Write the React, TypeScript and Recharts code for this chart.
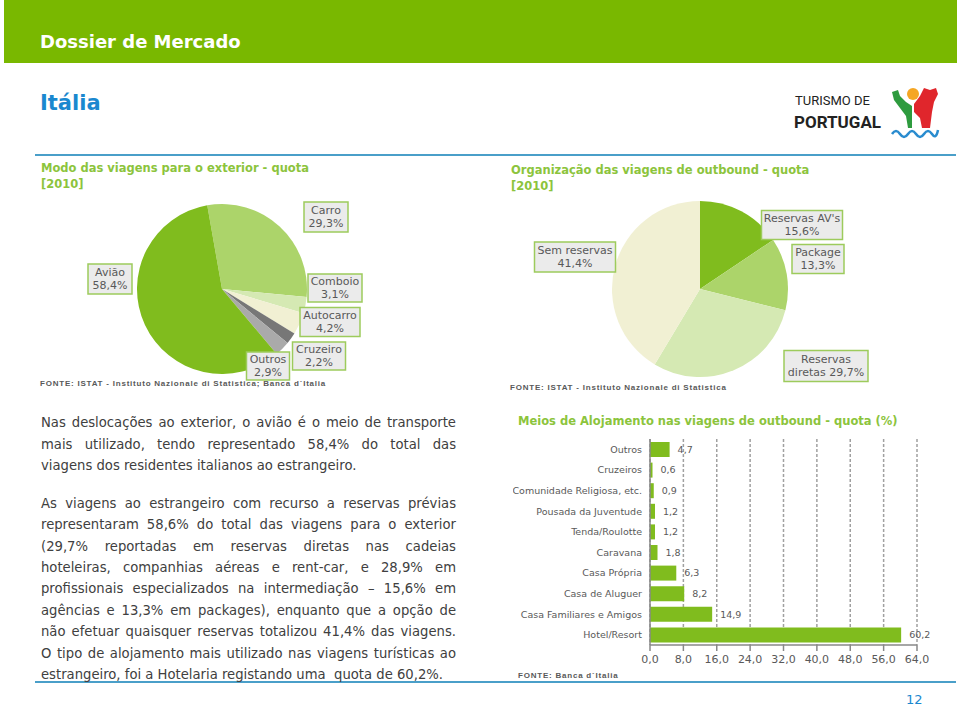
import React from 'react';
import { PieChart, Pie, Cell, BarChart, Bar, XAxis, YAxis, CartesianGrid, LabelList } from 'recharts';

// Modo das viagens para o exterior [2010]
const modeNames = ['Carro', 'Comboio', 'Autocarro', 'Cruzeiro', 'Outros', 'Avião'];
const modeShares = [29.3, 3.1, 4.2, 2.2, 2.9, 58.4];

// Organização das viagens de outbound [2010]
const orgNames = ["Reservas AV's", 'Package', 'Reservas diretas', 'Sem reservas'];
const orgShares = [15.6, 13.3, 29.7, 41.4];

// Meios de Alojamento nas viagens de outbound (%)
const accomNames = [
  'Outros',
  'Cruzeiros',
  'Comunidade Religiosa, etc.',
  'Pousada da Juventude',
  'Tenda/Roulotte',
  'Caravana',
  'Casa Própria',
  'Casa de Aluguer',
  'Casa Familiares e Amigos',
  'Hotel/Resort',
];
const accomShares = [4.7, 0.6, 0.9, 1.2, 1.2, 1.8, 6.3, 8.2, 14.9, 60.2];
const accomTicks = [0, 8, 16, 24, 32, 40, 48, 56, 64];

const para1 = [
  'Nas deslocações ao exterior, o avião é o meio de transporte',
  'mais utilizado, tendo representado 58,4% do total das',
  'viagens dos residentes italianos ao estrangeiro.',
];
const para2 = [
  'As viagens ao estrangeiro com recurso a reservas prévias',
  'representaram 58,6% do total das viagens para o exterior',
  '(29,7% reportadas em reservas diretas nas cadeias',
  'hoteleiras, companhias aéreas e rent-car, e 28,9% em',
  'profissionais especializados na intermediação – 15,6% em',
  'agências e 13,3% em packages), enquanto que a opção de',
  'não efetuar quaisquer reservas totalizou 41,4% das viagens.',
  'O tipo de alojamento mais utilizado nas viagens turísticas ao',
  'estrangeiro, foi a Hotelaria registando uma  quota de 60,2%.',
];

const modeColors = ['#acd46a', '#d5e9b3', '#f1f0d3', '#777777', '#aaaaaa', '#80bc1e'];
const orgColors = ['#80bc1e', '#acd46a', '#d5e9b3', '#f1f0d3'];

// label box placement, relative to the pie centre
const modeBoxes: any = {
  'Carro': { dx: 104, dy: -72, w: 44, h: 30 },
  'Comboio': { dx: 113, dy: -1, w: 54, h: 28 },
  'Autocarro': { dx: 108, dy: 33, w: 60, h: 29 },
  'Cruzeiro': { dx: 97, dy: 67, w: 53, h: 28 },
  'Outros': { dx: 46, dy: 77, w: 43, h: 28 },
  'Avião': { dx: -112, dy: -10, w: 44, h: 30 },
};
const orgBoxes: any = {
  "Reservas AV's": { dx: 102, dy: -64, w: 81, h: 29 },
  'Package': { dx: 118, dy: -30, w: 52, h: 29 },
  'Reservas diretas': { dx: 126, dy: 77, w: 84, h: 31, split: true },
  'Sem reservas': { dx: -125, dy: -32, w: 81, h: 30 },
};

const GREEN_TITLE = '#8cc43c';
const BLUE = '#4a9fc9';
const GREY_TEXT = '#595959';

const fmt = (v: number) => v.toFixed(1).replace('.', ',');

const makeLabel = (boxes: any) => (props: any) => {
  const { cx, cy, name, value } = props;
  const b = boxes[name];
  if (!b) return null;
  const x = cx + b.dx;
  const y = cy + b.dy;
  const pct = fmt(value) + '%';
  let lines = [name, pct];
  if (b.split) {
    const parts = name.split(' ');
    lines = [parts[0], parts.slice(1).join(' ') + ' ' + pct];
  }
  return (
    <g>
      <rect x={x - b.w / 2} y={y - b.h / 2} width={b.w} height={b.h} fill="#ebebeb" stroke="#9dcb5c" strokeWidth={1.5} />
      <text x={x} y={y - 6.5} textAnchor="middle" dominantBaseline="central" fontSize={11} fill={GREY_TEXT} fontFamily="DejaVu Sans">
        {lines[0]}
      </text>
      <text x={x} y={y + 6.5} textAnchor="middle" dominantBaseline="central" fontSize={11} fill={GREY_TEXT} fontFamily="DejaVu Sans">
        {lines[1]}
      </text>
    </g>
  );
};

// category ticks on one line, no wrapping
const CategoryTick = (props: any) => {
  const { x, y, payload } = props;
  return (
    <text x={x} y={y} dy={3.5} textAnchor="end" fontSize={9.5} fill={GREY_TEXT} fontFamily="DejaVu Sans">
      {payload.value}
    </text>
  );
};

const sourceStyle: React.CSSProperties = {
  position: 'absolute',
  fontFamily: 'Liberation Sans',
  fontWeight: 'bold',
  fontSize: 8,
  letterSpacing: 0.78,
  color: GREY_TEXT,
  whiteSpace: 'nowrap',
  lineHeight: '10px',
};

const titleStyle: React.CSSProperties = {
  position: 'absolute',
  fontFamily: 'DejaVu Sans',
  fontWeight: 'bold',
  fontSize: 11.5,
  color: GREEN_TITLE,
  whiteSpace: 'nowrap',
  lineHeight: '16px',
};

const Logo = () => (
  <svg width={60} height={62} style={{ position: 'absolute', left: 886, top: 82 }}>
    <circle cx={27} cy={12} r={6} fill="#f5a623" />
    <path d="M6 10 L12 8 L14 14 L20 20 L26 24 L26 46 L22 46 L20 34 L14 26 L8 18 Z" fill="#2e9b3e" />
    <path d="M28 22 L34 14 L38 6 L44 8 L50 6 L52 12 L48 20 L46 30 L44 46 L36 46 L34 36 L28 30 Z" fill="#e0262c" />
    <path d="M6 52 q4 -6 8 0 q4 6 8 0 q4 -6 8 0 q4 6 8 0 q4 -6 8 0 q4 6 6 -4" fill="none" stroke="#2a8ccf" strokeWidth={2.5} />
  </svg>
);

export default function App() {
  const modeData = modeNames.map((name, i) => ({ name, value: modeShares[i] }));
  const orgData = orgNames.map((name, i) => ({ name, value: orgShares[i] }));
  const accomData = accomNames.map((name, i) => ({ name, value: accomShares[i] }));

  const lineStyle = (top: number, justify: boolean): React.CSSProperties => ({
    position: 'absolute',
    left: 41,
    top,
    width: 415,
    fontFamily: 'DejaVu Sans',
    fontSize: 13.2,
    lineHeight: '21.4px',
    color: '#404040',
    textAlign: justify ? 'justify' : 'left',
    textAlignLast: justify ? 'justify' : 'left',
    whiteSpace: justify ? 'normal' : 'pre',
  });

  return (
    <div style={{ position: 'absolute', left: 0, top: 0, width: 960, height: 711, background: '#fff', overflow: 'hidden' }}>
      {/* header */}
      <div style={{ position: 'absolute', left: 4, top: 0, width: 953, height: 63, background: '#79b800' }} />
      <div style={{ position: 'absolute', left: 40, top: 30, fontFamily: 'DejaVu Sans', fontWeight: 'bold', fontSize: 18, color: '#fff', lineHeight: '24px' }}>
        Dossier de Mercado
      </div>
      <div style={{ position: 'absolute', left: 40, top: 89, fontFamily: 'DejaVu Sans', fontWeight: 'bold', fontSize: 21, color: '#1a88cf', lineHeight: '28px' }}>
        Itália
      </div>
      <div style={{ position: 'absolute', left: 795, top: 92, fontFamily: 'Roboto', fontSize: 13, color: '#222', lineHeight: '18px', whiteSpace: 'nowrap' }}>
        TURISMO DE
      </div>
      <div style={{ position: 'absolute', left: 794, top: 110, fontFamily: 'Roboto', fontWeight: 'bold', fontSize: 17, color: '#222', lineHeight: '24px', whiteSpace: 'nowrap' }}>
        PORTUGAL
      </div>
      <Logo />

      <div style={{ position: 'absolute', left: 35, top: 154, width: 921, height: 2, background: BLUE }} />
      <div style={{ position: 'absolute', left: 35, top: 681, width: 921, height: 2, background: BLUE }} />

      {/* left pie */}
      <div style={{ ...titleStyle, left: 41, top: 160 }}>
        Modo das viagens para o exterior - quota
        <br />
        [2010]
      </div>
      <div style={{ position: 'absolute', left: 30, top: 190 }}>
        <PieChart width={340} height={200}>
          <Pie
            data={modeData}
            dataKey="value"
            nameKey="name"
            cx={187}
            cy={94}
            outerRadius={85}
            startAngle={100}
            endAngle={-260}
            stroke="none"
            label={makeLabel(modeBoxes)}
            labelLine={false}
            isAnimationActive={false}
          >
            {modeData.map((d, i) => (
              <Cell key={d.name} fill={modeColors[i]} />
            ))}
          </Pie>
        </PieChart>
      </div>
      <div style={{ ...sourceStyle, left: 40, top: 379 }}>FONTE: ISTAT - Instituto Nazionale di Statistica; Banca d`Italia</div>

      {/* right pie */}
      <div style={{ ...titleStyle, left: 511, top: 162 }}>
        Organização das viagens de outbound - quota
        <br />
        [2010]
      </div>
      <div style={{ position: 'absolute', left: 500, top: 190 }}>
        <PieChart width={460} height={200}>
          <Pie
            data={orgData}
            dataKey="value"
            nameKey="name"
            cx={195}
            cy={94}
            outerRadius={88}
            startAngle={90}
            endAngle={-270}
            stroke="none"
            label={makeLabel(orgBoxes)}
            labelLine={false}
            isAnimationActive={false}
          >
            {orgData.map((d, i) => (
              <Cell key={d.name} fill={orgColors[i]} />
            ))}
          </Pie>
        </PieChart>
      </div>
      <div style={{ ...sourceStyle, left: 510, top: 383 }}>FONTE: ISTAT - Instituto Nazionale di Statistica</div>

      {/* text */}
      {para1.map((t, i) => (
        <div key={'a' + i} style={lineStyle(412.3 + i * 21.5, i < para1.length - 1)}>
          {t}
        </div>
      ))}
      {para2.map((t, i) => (
        <div key={'b' + i} style={lineStyle(492.8 + i * 21.4, i < para2.length - 1)}>
          {t}
        </div>
      ))}

      {/* bar chart */}
      <div style={{ ...titleStyle, left: 518, top: 413 }}>Meios de Alojamento nas viagens de outbound - quota (%)</div>
      <div style={{ position: 'absolute', left: 513, top: 430 }}>
        <BarChart width={427} height={245} data={accomData} layout="vertical" margin={{ top: 9, right: 23, bottom: 0, left: 0 }}>
          <CartesianGrid horizontal={false} stroke="#a0a0a0" strokeDasharray="3 2" strokeWidth={1.5} />
          <XAxis
            type="number"
            domain={[0, 64]}
            ticks={accomTicks}
            tickFormatter={fmt}
            axisLine={{ stroke: '#888', strokeWidth: 1.5 }}
            tickLine={{ stroke: '#888', strokeWidth: 1.5 }}
            tickMargin={4}
            tick={{ fontSize: 11, fill: GREY_TEXT, fontFamily: 'DejaVu Sans' }}
          />
          <YAxis
            type="category"
            dataKey="name"
            width={137}
            interval={0}
            tickLine={false}
            axisLine={{ stroke: '#888', strokeWidth: 1.5 }}
            tick={<CategoryTick />}
          />
          <Bar dataKey="value" fill="#80bc1e" barSize={15} isAnimationActive={false}>
            <LabelList dataKey="value" position="right" offset={8} formatter={(v: any) => fmt(Number(v))} fontSize={9.5} fill={GREY_TEXT} fontFamily="DejaVu Sans" />
          </Bar>
        </BarChart>
      </div>
      <div style={{ ...sourceStyle, left: 518, top: 671 }}>FONTE: Banca d`Italia</div>

      <div style={{ position: 'absolute', left: 906, top: 692, fontFamily: 'DejaVu Sans', fontSize: 13, color: '#1a88cf', lineHeight: '16px' }}>12</div>
    </div>
  );
}
